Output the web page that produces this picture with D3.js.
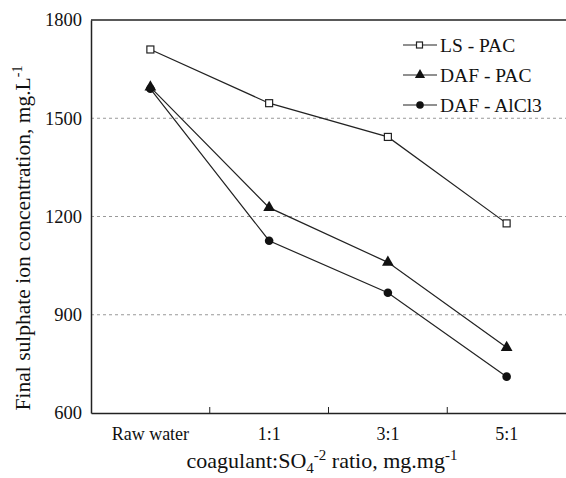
<!DOCTYPE html>
<html><head><meta charset="utf-8">
<script src="https://cdn.jsdelivr.net/npm/d3@7"></script>
<style>body{margin:0;background:#fff}svg{display:block}text{font-family:"Liberation Serif","Times New Roman","DejaVu Serif",serif;fill:#111}</style>
</head><body><div id="chart"></div>
<script>
const categories = ["Raw water", "1:1", "3:1", "5:1"];
const seriesNames = ["LS - PAC", "DAF - PAC", "DAF - AlCl3"];
const lsPac = [1710, 1546, 1443, 1179];
const dafPac = [1595, 1227, 1060, 800];
const dafAlcl3 = [1590, 1126, 967, 711];
const yTicks = [600, 900, 1200, 1500, 1800];
const gridValues = [900, 1200, 1500];

const W = 566, H = 478;
const m = {left: 91, right: 0, top: 20, bottom: 65};
const svg = d3.select("#chart").append("svg").attr("width", W).attr("height", H);
const x = d3.scaleBand().domain(categories).range([m.left, W - m.right]);
const y = d3.scaleLinear().domain([600, 1800]).range([H - m.bottom, m.top]);
const plotB = H - m.bottom;

// grid
svg.append("g").selectAll("line").data(gridValues).join("line")
  .attr("x1", m.left).attr("x2", W).attr("y1", d => y(d)).attr("y2", d => y(d))
  .attr("stroke", "#999").attr("stroke-width", 1).attr("stroke-dasharray", "3,3");

// top border
svg.append("line").attr("x1", m.left).attr("x2", W).attr("y1", m.top).attr("y2", m.top)
  .attr("stroke", "#222").attr("stroke-width", 1.5);

// y axis
const yAxis = svg.append("g").attr("transform", `translate(${m.left},0)`)
  .call(d3.axisLeft(y).tickValues(yTicks).tickSize(0).tickPadding(9).tickFormat(d3.format("d")));
yAxis.attr("font-family", null);
yAxis.select(".domain").attr("stroke", "#222").attr("stroke-width", 1.5);
yAxis.selectAll("text").attr("font-size", 18.5);

// x axis
const xAxis = svg.append("g").attr("transform", `translate(0,${plotB})`)
  .call(d3.axisBottom(x).tickSize(0).tickPadding(14));
xAxis.attr("font-family", null);
xAxis.select(".domain").attr("stroke", "#222").attr("stroke-width", 1.5);
xAxis.selectAll("text").attr("font-size", 18);
// inward ticks at category boundaries
svg.append("g").selectAll("line").data(categories.slice(1)).join("line")
  .attr("x1", d => x(d)).attr("x2", d => x(d)).attr("y1", plotB).attr("y2", plotB - 6)
  .attr("stroke", "#222").attr("stroke-width", 1);

// series
const data = [lsPac, dafPac, dafAlcl3];
const cx = i => x(categories[i]) + x.bandwidth() / 2;
const line = d3.line().x((d, i) => cx(i)).y(d => y(d));
data.forEach((vals, s) => {
  svg.append("path").attr("d", line(vals)).attr("fill", "none").attr("stroke", "#222").attr("stroke-width", 1.2);
});
function marker(g, s, px, py) {
  if (s === 0) {
    g.append("rect").attr("x", px - 3.5).attr("y", py - 3.5).attr("width", 7).attr("height", 7)
      .attr("fill", "#fff").attr("stroke", "#222").attr("stroke-width", 1.2);
  } else if (s === 1) {
    g.append("path").attr("d", d3.symbol(d3.symbolTriangle, 60)()).attr("transform", `translate(${px},${py})`)
      .attr("fill", "#111");
  } else {
    g.append("circle").attr("cx", px).attr("cy", py).attr("r", 4.3).attr("fill", "#111");
  }
}
const mg = svg.append("g");
data.forEach((vals, s) => vals.forEach((v, i) => marker(mg, s, cx(i), y(v))));

// legend
const lg = svg.append("g");
seriesNames.forEach((n, s) => {
  const ly = 45 + s * 30;
  lg.append("line").attr("x1", 403).attr("x2", 437).attr("y1", ly).attr("y2", ly).attr("stroke", "#222").attr("stroke-width", 1.2);
  if (s === 0) {
    lg.append("rect").attr("x", 416.5).attr("y", ly - 3).attr("width", 6).attr("height", 6).attr("fill", "#fff").attr("stroke", "#222").attr("stroke-width", 1.2);
  } else if (s === 1) {
    lg.append("path").attr("d", d3.symbol(d3.symbolTriangle, 45)()).attr("transform", `translate(420,${ly})`).attr("fill", "#111");
  } else {
    lg.append("circle").attr("cx", 420).attr("cy", ly).attr("r", 3.8).attr("fill", "#111");
  }
  lg.append("text").attr("x", 440).attr("y", ly + 6.5).attr("font-size", 19.5).text(n);
});

// y title
const yt = svg.append("text").attr("transform", `translate(30,238) rotate(-90)`)
  .attr("text-anchor", "middle").attr("font-size", 21.5);
yt.append("tspan").text("Final sulphate ion concentration, mg.L");
yt.append("tspan").attr("dy", -8).attr("font-size", 14).text("-1");

// x title
const xt = svg.append("text").attr("x", 322).attr("y", 468).attr("text-anchor", "middle").attr("font-size", 22);
xt.append("tspan").text("coagulant:SO");
xt.append("tspan").attr("dy", 5).attr("font-size", 15).text("4");
xt.append("tspan").attr("dy", -13).attr("font-size", 15).text("-2");
xt.append("tspan").attr("dy", 8).text(" ratio, mg.mg");
xt.append("tspan").attr("dy", -8).attr("font-size", 15).text("-1");
</script></body></html>
